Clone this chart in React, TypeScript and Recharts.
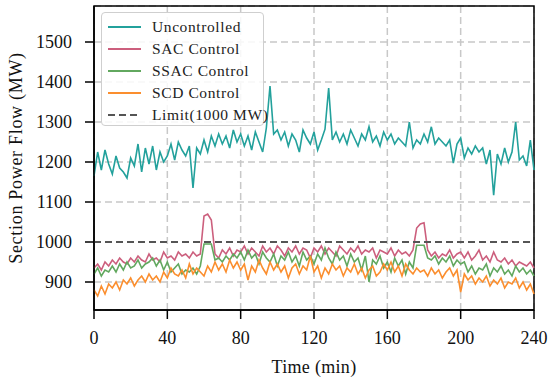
import {
  CartesianGrid,
  Label,
  Line,
  LineChart,
  ReferenceArea,
  ReferenceLine,
  XAxis,
  YAxis,
} from "recharts";

// sampled every 2 min, 0..240
const TIME = Array.from({ length: 121 }, (_, i) => i * 2);

const UNCONTROLLED = [
  1165, 1225, 1180, 1230, 1195, 1170, 1215, 1185, 1175, 1160, 1210, 1190, 1245, 1175, 1235, 1195,
  1240, 1180, 1225, 1200, 1215, 1245, 1205, 1250, 1230, 1215, 1240, 1135, 1235, 1220, 1255, 1225,
  1265, 1240, 1270, 1245, 1265, 1235, 1280, 1250, 1270, 1240, 1265, 1230, 1275, 1250, 1225, 1285,
  1390, 1270, 1280, 1255, 1275, 1240, 1270, 1255, 1225, 1280, 1260, 1245, 1275, 1230, 1255, 1282,
  1385, 1255, 1275, 1250, 1270, 1245, 1280, 1260, 1240, 1270, 1255, 1288, 1250, 1265, 1240, 1275,
  1255, 1270, 1245, 1260, 1250, 1240, 1300, 1235, 1255, 1245, 1270, 1250, 1288, 1245, 1260, 1250,
  1240, 1255, 1197, 1245, 1260, 1210, 1235, 1220, 1240, 1225, 1235, 1195, 1230, 1117, 1220, 1195,
  1235, 1200, 1225, 1300, 1205, 1215, 1190, 1255, 1180,
];

const SAC = [
  935, 945, 930, 950, 940, 955, 945, 960, 950, 945, 960, 950, 965, 955, 950, 970,
  955, 960, 950, 975, 960, 965, 955, 975, 965, 970, 960, 975, 965, 970, 1065, 1070,
  1055, 970, 960, 980, 970, 985, 965, 980, 975, 990, 970, 985, 975, 965, 990, 975,
  985, 970, 990, 980, 965, 985, 975, 990, 970, 985, 980, 960, 985, 975, 990, 970,
  985, 975, 965, 990, 980, 970, 985, 975, 990, 970, 980, 975, 985, 960, 980, 975,
  970, 985, 965, 980, 970, 975, 965, 980, 1035, 1045, 1048, 980, 965, 975, 960, 970,
  965, 980, 960, 970, 975, 960, 975, 955, 965, 980, 955, 965, 950, 975, 955, 950,
  960, 945, 955, 940, 950, 945, 940, 950, 935,
];

const SSAC = [
  920, 935, 915, 930, 925, 940, 925, 945, 930, 950, 935, 940, 955, 935, 945, 950,
  960, 940, 955, 930, 950, 925, 935, 945, 920, 930, 925, 935, 920, 940, 995, 995,
  995, 955, 960, 950, 965, 955, 970, 960, 975, 955, 980, 960, 970, 945, 975, 960,
  950, 970, 940, 965, 955, 975, 950, 965, 940, 975, 955, 965, 945, 970, 955, 985,
  960, 945, 975, 955, 965, 940, 970, 950, 960, 930, 965, 900, 955, 945, 965, 935,
  950, 925, 960, 940, 955, 920, 950, 935, 992, 992, 992, 960, 955, 965, 945, 960,
  950, 965, 940, 955, 945, 950, 925, 940, 920, 935, 930, 945, 915, 935, 925, 940,
  920, 930, 915, 940, 925, 935, 920, 930, 915,
];

const SCD = [
  880, 865, 890, 870, 895, 885, 900, 880, 905, 895, 910, 890, 905, 915, 900, 920,
  905, 915, 900, 925, 910, 935, 920, 915, 930, 910, 945, 920, 935, 925, 915, 940,
  925, 950, 930, 945, 925, 955, 935, 950, 930, 945, 905, 940, 925, 955, 935, 920,
  950, 930, 945, 925, 940, 910, 935, 945, 920, 940, 930, 965, 925, 940, 910, 935,
  920, 945, 930, 940, 915, 935, 925, 945, 920, 935, 910, 930, 940, 915, 925, 945,
  930, 950, 925, 940, 915, 945, 930, 920, 935, 925, 930, 915, 935, 920, 930, 910,
  925, 935, 915, 930, 875, 920, 905, 915, 895, 910, 900, 915, 890, 905, 895, 910,
  885, 900, 895, 910, 885, 900, 880, 895, 870,
];

const X_TICKS = [0, 40, 80, 120, 160, 200, 240];
const Y_TICKS = [900, 1000, 1100, 1200, 1300, 1400, 1500];
const LIMIT = 1000;

const SERIES = [
  { key: "unc", name: "Uncontrolled", color: "#23a19c" },
  { key: "sac", name: "SAC Control", color: "#cc5f7d" },
  { key: "ssac", name: "SSAC Control", color: "#62a85f" },
  { key: "scd", name: "SCD Control", color: "#fb8e2e" },
];

const data = TIME.map((t, i) => ({
  t,
  unc: UNCONTROLLED[i],
  sac: SAC[i],
  ssac: SSAC[i],
  scd: SCD[i],
}));

const FONT = '"Liberation Serif", "Times New Roman", serif';

function LegendBox() {
  const rows = [
    ...SERIES.map((s) => ({ name: s.name, color: s.color, dashed: false })),
    { name: "Limit(1000 MW)", color: "#555555", dashed: true },
  ];
  return (
    <div
      style={{
        position: "absolute",
        top: 12,
        left: 101,
        width: 163,
        height: 114,
        border: "1.5px solid #cfcfcf",
        borderRadius: 4,
        background: "rgba(255,255,255,0.85)",
        boxSizing: "border-box",
        paddingTop: 3,
      }}
    >
      {rows.map((r) => (
        <div
          key={r.name}
          style={{ display: "flex", alignItems: "center", height: 22, lineHeight: "22px" }}
        >
          <svg width={50} height={22} style={{ flex: "none", display: "block" }}>
            <line
              x1={6}
              x2={39}
              y1={11}
              y2={11}
              stroke={r.color}
              strokeWidth={2}
              strokeDasharray={r.dashed ? "7 4" : undefined}
            />
          </svg>
          <span
            style={{
              fontFamily: FONT,
              fontSize: 15.5,
              letterSpacing: 0.6,
              color: "#222",
              whiteSpace: "nowrap",
            }}
          >
            {r.name}
          </span>
        </div>
      ))}
    </div>
  );
}

export default function App() {
  return (
    <div style={{ position: "relative", width: 550, height: 382, background: "#fff" }}>
      <style>{`body{margin:0}`}</style>
      <LineChart
        width={550}
        height={382}
        data={data}
        margin={{ top: 6, right: 16, left: 0, bottom: 0 }}
        style={{ fontFamily: FONT }}
      >
        <CartesianGrid
          stroke="#c8c8c8"
          strokeWidth={1.5}
          strokeDasharray="7 4"
        />
        <XAxis
          dataKey="t"
          type="number"
          domain={[0, 240]}
          ticks={X_TICKS}
          height={72}
          stroke="#000"
          strokeWidth={1.5}
          tickSize={9}
          tickMargin={12}
          tick={{ fill: "#111", fontSize: 18 }}
        >
          <Label
            value="Time (min)"
            position="insideBottom"
            offset={9}
            style={{ fill: "#111", fontSize: 18, fontFamily: FONT, letterSpacing: 0.3 }}
          />
        </XAxis>
        <YAxis
          type="number"
          domain={[830, 1590]}
          ticks={Y_TICKS}
          width={94}
          stroke="#000"
          strokeWidth={1.5}
          tickSize={9}
          tickMargin={13}
          tick={{ fill: "#111", fontSize: 18 }}
        >
          <Label
            value="Section Power Flow (MW)"
            angle={-90}
            position="insideLeft"
            offset={16}
            style={{
              fill: "#111",
              fontSize: 18,
              fontFamily: FONT,
              letterSpacing: 0.7,
              textAnchor: "middle",
            }}
          />
        </YAxis>
        <ReferenceArea
          x1={0}
          x2={240}
          y1={830}
          y2={1590}
          fill="none"
          stroke="#000"
          strokeWidth={1.5}
          ifOverflow="visible"
        />
        {SERIES.map((s) => (
          <Line
            key={s.key}
            type="linear"
            dataKey={s.key}
            name={s.name}
            stroke={s.color}
            strokeWidth={1.6}
            dot={false}
            isAnimationActive={false}
          />
        ))}
        <ReferenceLine
          y={LIMIT}
          stroke="#555555"
          strokeWidth={2}
          strokeDasharray="7 4"
        />
      </LineChart>
      <LegendBox />
    </div>
  );
}
